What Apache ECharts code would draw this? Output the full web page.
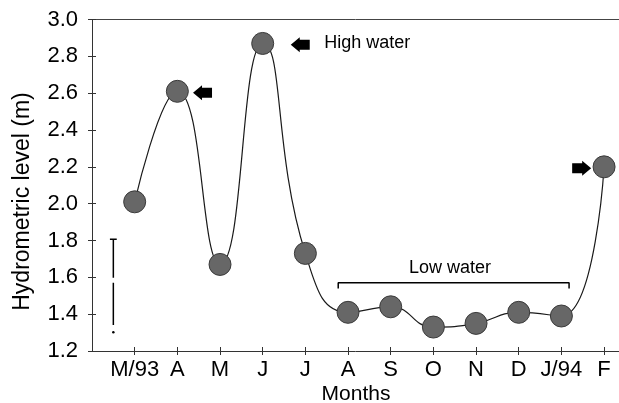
<!DOCTYPE html>
<html><head><meta charset="utf-8">
<script src="https://cdn.jsdelivr.net/npm/echarts@6/dist/echarts.min.js"></script>
<style>html,body{margin:0;padding:0;background:#fff}#c{width:619px;height:403px}</style>
</head><body><div id="c"></div>
<script>
const months = ['M/93','A','M','J','J','A','S','O','N','D','J/94','F'];
const levels = [2.01,2.61,1.67,2.87,1.73,1.41,1.44,1.33,1.35,1.41,1.39,2.20];
const monthIdx = months.map((m,i)=>i);
const arrowsLeft = [[1.59,2.602],[3.88,2.863]];
const arrowsRight = [[10.475,2.192]];
const highWaterLabel = [[4.44,2.874]];
const lowWaterBracket = [[4.77,1.54],[4.77,1.571],[10.18,1.571],[10.18,1.54]];
const lowWaterLabel = [[7.39,1.651]];
const scaleBarUpper = [[-0.5,1.807],[-0.5,1.598]];
const scaleBarLower = [[-0.5,1.571],[-0.5,1.341]];
const scaleBarCap = [[-0.58,1.807],[-0.42,1.807]];
const scaleBarDot = [[-0.5,1.302]];

const FONT = '"Liberation Sans", Arial, sans-serif';
const INK = '#000';
const chart = echarts.init(document.getElementById('c'), null, {renderer:'canvas'});
const arrowPath = 'path://M0,7.5 L9,0 L9,2.5 L19,2.5 L19,12.5 L9,12.5 L9,15 Z';
const baseX = {type:'value', min:-1, max:11.35, interval:1, position:'bottom', gridIndex:0};
const baseY = {type:'value', min:1.2, max:3.0, interval:0.2, position:'left', gridIndex:0};
const lineOff = {show:false, onZero:false};
chart.setOption({
  animation:false,
  backgroundColor:'#fff',
  grid:{left:92, right:0, top:19.5, bottom:52, show:false},
  xAxis:[
    Object.assign({}, baseX, {
      axisLine:{show:true, onZero:false, lineStyle:{color:'#333', width:1}},
      axisTick:{show:true, inside:false, length:4, customValues:monthIdx, lineStyle:{color:'#333'}},
      axisLabel:{show:true, customValues:monthIdx, margin:8, color:INK, fontFamily:FONT, fontSize:22,
        formatter:v=>{const i=Math.round(v); return (Math.abs(v-i)<1e-6 && months[i]!==undefined)?months[i]:'';}},
      splitLine:{show:false}
    }),
    Object.assign({}, baseX, {
      axisLine:lineOff,
      axisTick:{show:true, inside:true, length:4, customValues:monthIdx, lineStyle:{color:'#333'}},
      axisLabel:{show:false}, splitLine:{show:false}
    }),
    Object.assign({}, baseX, {
      position:'top',
      axisLine:{show:true, onZero:false, lineStyle:{color:'#444', width:1}},
      axisTick:{show:false}, axisLabel:{show:false}, splitLine:{show:false}
    })
  ],
  yAxis:[
    Object.assign({}, baseY, {
      axisLine:{show:true, onZero:false, lineStyle:{color:'#333', width:1}},
      axisTick:{show:true, inside:false, length:4, lineStyle:{color:'#333'}},
      axisLabel:{show:true, margin:14, color:INK, fontFamily:FONT, fontSize:22, formatter:v=>v.toFixed(1)},
      splitLine:{show:false}
    }),
    Object.assign({}, baseY, {
      axisLine:lineOff,
      axisTick:{show:true, inside:true, length:4, lineStyle:{color:'#333'}},
      axisLabel:{show:false}, splitLine:{show:false}
    })
  ],
  graphic:[
    {type:'text', x:22.5, y:201.5, rotation:Math.PI/2,
      style:{text:'Hydrometric level (m)', font:'23px "Liberation Sans", Arial, sans-serif', fill:INK, textAlign:'center', textVerticalAlign:'middle'}},
    {type:'text', x:356, y:394,
      style:{text:'Months', font:'21px "Liberation Sans", Arial, sans-serif', fill:INK, textAlign:'center', textVerticalAlign:'middle'}}
  ],
  series:[
    {type:'line', data:scaleBarUpper, symbol:'none', lineStyle:{color:INK, width:1.5}, silent:true},
    {type:'line', data:scaleBarLower, symbol:'none', lineStyle:{color:INK, width:1.5}, silent:true},
    {type:'line', data:scaleBarCap, symbol:'none', lineStyle:{color:INK, width:1.5}, silent:true},
    {type:'scatter', data:scaleBarDot, symbol:'circle', symbolSize:2.5, itemStyle:{color:INK, opacity:1}, silent:true},
    {type:'line', data:lowWaterBracket, symbol:'none', lineStyle:{color:INK, width:1.5}, silent:true},
    {type:'scatter', data:lowWaterLabel, symbolSize:0, silent:true, itemStyle:{color:'#000', opacity:1},
      label:{show:true, position:'inside', formatter:'Low water', color:INK, textBorderWidth:0, fontFamily:FONT, fontSize:18}},
    {type:'scatter', data:highWaterLabel, symbolSize:0, silent:true, itemStyle:{color:'#000', opacity:1},
      label:{show:true, position:'right', distance:0, formatter:'High water', color:INK, textBorderWidth:0, fontFamily:FONT, fontSize:18}},
    {type:'scatter', data:arrowsLeft, symbol:arrowPath, symbolSize:[19,15], itemStyle:{color:'#000', opacity:1}, silent:true},
    {type:'scatter', data:arrowsRight, symbol:arrowPath, symbolSize:[19,15], symbolRotate:180, itemStyle:{color:'#000', opacity:1}, silent:true},
    {type:'line', data:levels.map((v,i)=>[i,v]), smooth:0.5, symbol:'circle', symbolSize:22, showAllSymbol:true,
      lineStyle:{color:'#1a1a1a', width:1.2},
      itemStyle:{color:'#676767', borderColor:'#3a3a3a', borderWidth:1}, z:3}
  ]
});
</script></body></html>
